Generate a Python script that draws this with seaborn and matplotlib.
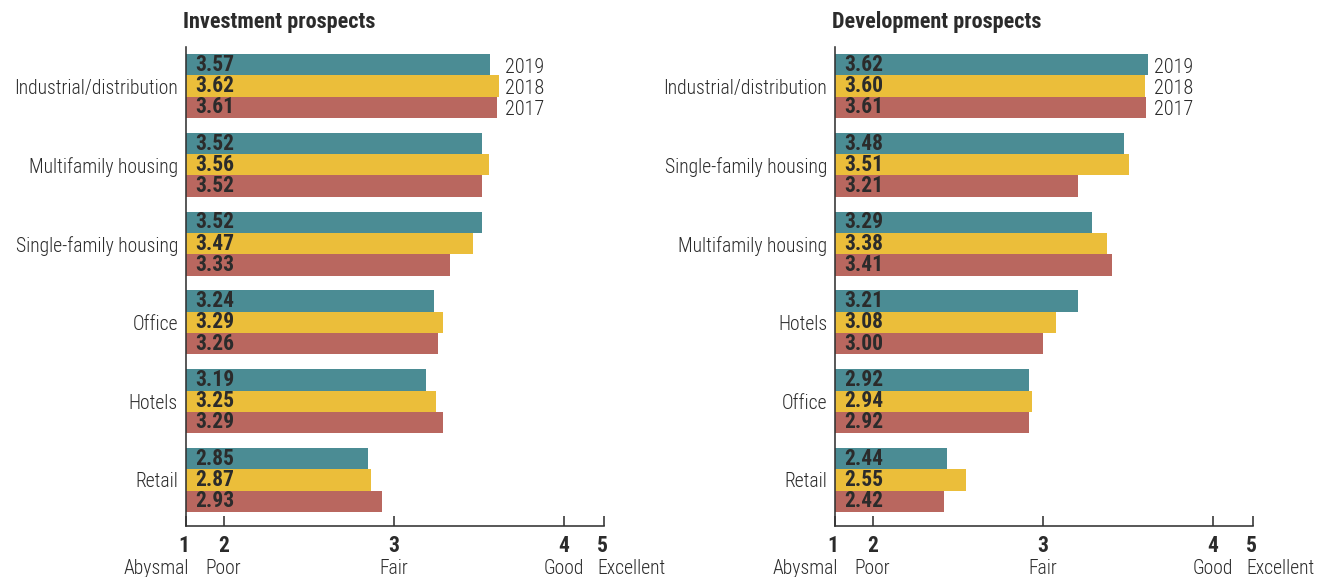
import matplotlib
matplotlib.use("Agg")
import matplotlib.pyplot as plt
import matplotlib.transforms as mtransforms
from matplotlib import font_manager
import pandas as pd
import seaborn as sns

# Survey years and their bar colours (top to bottom within each group)
years = ["2019", "2018", "2017"]
year_colors = ["#4b8c94", "#ebbe3a", "#b9675f"]

# Investment prospects
invest_categories = ["Industrial/distribution", "Multifamily housing", "Single-family housing",
                     "Office", "Hotels", "Retail"]
invest_2019 = [3.57, 3.52, 3.52, 3.24, 3.19, 2.85]
invest_2018 = [3.62, 3.56, 3.47, 3.29, 3.25, 2.87]
invest_2017 = [3.61, 3.52, 3.33, 3.26, 3.29, 2.93]

# Development prospects
dev_categories = ["Industrial/distribution", "Single-family housing", "Multifamily housing",
                  "Hotels", "Office", "Retail"]
dev_2019 = [3.62, 3.48, 3.29, 3.21, 2.92, 2.44]
dev_2018 = [3.60, 3.51, 3.38, 3.08, 2.94, 2.55]
dev_2017 = [3.61, 3.21, 3.41, 3.00, 2.92, 2.42]

# Rating scale
scale_numbers = ["1", "2", "3", "4", "5"]
scale_words = ["Abysmal", "Poor", "Fair", "Good", "Excellent"]


def to_long(categories, series):
    rows = []
    for year, vals in zip(years, series):
        for cat, val in zip(categories, vals):
            rows.append({"category": cat, "year": year, "score": val})
    return pd.DataFrame(rows)


sns.set_style("white")

# pick a condensed sans family if one is installed, otherwise shrink DejaVu Sans
_installed = {f.name for f in font_manager.fontManager.ttflist}
FONT, FS, FS_LIGHT = "DejaVu Sans", 12, 11
for _cand, _size, _light in [("Roboto Condensed", 15.5, 14.1), ("Archivo Narrow", 15.5, 14),
                             ("PT Sans Narrow", 16, 14.5), ("Fira Sans Condensed", 14.5, 13),
                             ("IBM Plex Sans Condensed", 14.5, 13),
                             ("Liberation Sans Narrow", 15, 13.5)]:
    if _cand in _installed:
        FONT, FS, FS_LIGHT = _cand, _size, _light
        break
plt.rcParams["font.family"] = [FONT, "DejaVu Sans"]

PX = 72 / 100          # points per pixel at 100 dpi
TEXT = "#2b2b2b"
AXIS = "#333333"
X_MIN, X_MAX = 1.779, 4.238   # compressed 1..5 scale: ends squeezed

fig = plt.figure(figsize=(13.28, 5.77), dpi=100)
ax_bottom = 1 - 526 / 577
ax_height = (526 - 47) / 577
axL = fig.add_axes([186 / 1328, ax_bottom, 418 / 1328, ax_height])
axR = fig.add_axes([835 / 1328, ax_bottom, 418 / 1328, ax_height])


def draw_panel(ax, title, categories, series):
    df = to_long(categories, series)
    sns.barplot(data=df, x="score", y="category", hue="year", order=categories,
                hue_order=years, palette=year_colors, saturation=1, width=0.81,
                dodge=True, gap=0, linewidth=0, errorbar=None, legend=False, ax=ax)
    ax.set_xlim(X_MIN, X_MAX)
    ax.set_ylim(len(categories) - 1 + 0.584, -0.495)
    ax.set_xlabel("")
    ax.set_ylabel("")

    # value labels inside the bars, near the axis
    lab_tf = mtransforms.blended_transform_factory(ax.transAxes, ax.transData)
    for container, vals in zip(ax.containers, series):
        for bar, val in zip(container, vals):
            yc = bar.get_y() + bar.get_height() / 2
            ax.text(0.022, yc, f"{val:.2f}", transform=lab_tf, ha="left",
                    va="center", fontsize=FS, fontweight="bold", color=TEXT)

    # year labels beside the first group
    first_max = max(vals[0] for vals in series)
    for container, year in zip(ax.containers, years):
        bar = container[0]
        yc = bar.get_y() + bar.get_height() / 2
        ax.annotate(year, xy=(first_max, yc), xytext=(6 * PX, -2.5 * PX),
                    textcoords="offset points", ha="left", va="center",
                    fontsize=FS_LIGHT + 0.5, fontweight="light", color=TEXT)

    # axes styling
    for side in ("top", "right"):
        ax.spines[side].set_visible(False)
    for side in ("left", "bottom"):
        ax.spines[side].set_color(AXIS)
        ax.spines[side].set_linewidth(1.6 * PX)
    ax.tick_params(axis="y", length=0, pad=8 * PX, labelsize=FS_LIGHT, labelcolor=TEXT)
    for lbl in ax.get_yticklabels():
        lbl.set_fontweight("light")
    tick_pos = [X_MIN, 2, 3, 4, X_MAX]
    ax.set_xticks(tick_pos)
    ax.set_xticklabels([])
    ax.tick_params(axis="x", bottom=True, direction="in", length=10 * PX,
                   width=1.6 * PX, color=AXIS)

    # two-line rating labels under the axis
    aligns = ["right", "center", "center", "center", "left"]
    shifts = [3, 0, 0, 0, -7]
    for pos, num, word, ha, dx in zip(tick_pos, scale_numbers, scale_words, aligns, shifts):
        ax.annotate(num, xy=(pos, 0), xycoords=("data", "axes fraction"),
                    xytext=(dx * PX, -20 * PX), textcoords="offset points",
                    ha=ha, va="center", fontsize=FS, fontweight="bold", color=TEXT,
                    annotation_clip=False)
        ax.annotate(word, xy=(pos, 0), xycoords=("data", "axes fraction"),
                    xytext=(dx * PX, -43 * PX), textcoords="offset points",
                    ha=ha, va="center", fontsize=FS_LIGHT, fontweight="light",
                    color=TEXT, annotation_clip=False)

    ax.annotate(title, xy=(0, 1), xycoords="axes fraction",
                xytext=(-3 * PX, 25 * PX), textcoords="offset points",
                ha="left", va="center", fontsize=FS + 0.5, fontweight="bold", color=TEXT)


draw_panel(axL, "Investment prospects", invest_categories,
           [invest_2019, invest_2018, invest_2017])
draw_panel(axR, "Development prospects", dev_categories,
           [dev_2019, dev_2018, dev_2017])

fig.savefig("out.png", dpi=100)
